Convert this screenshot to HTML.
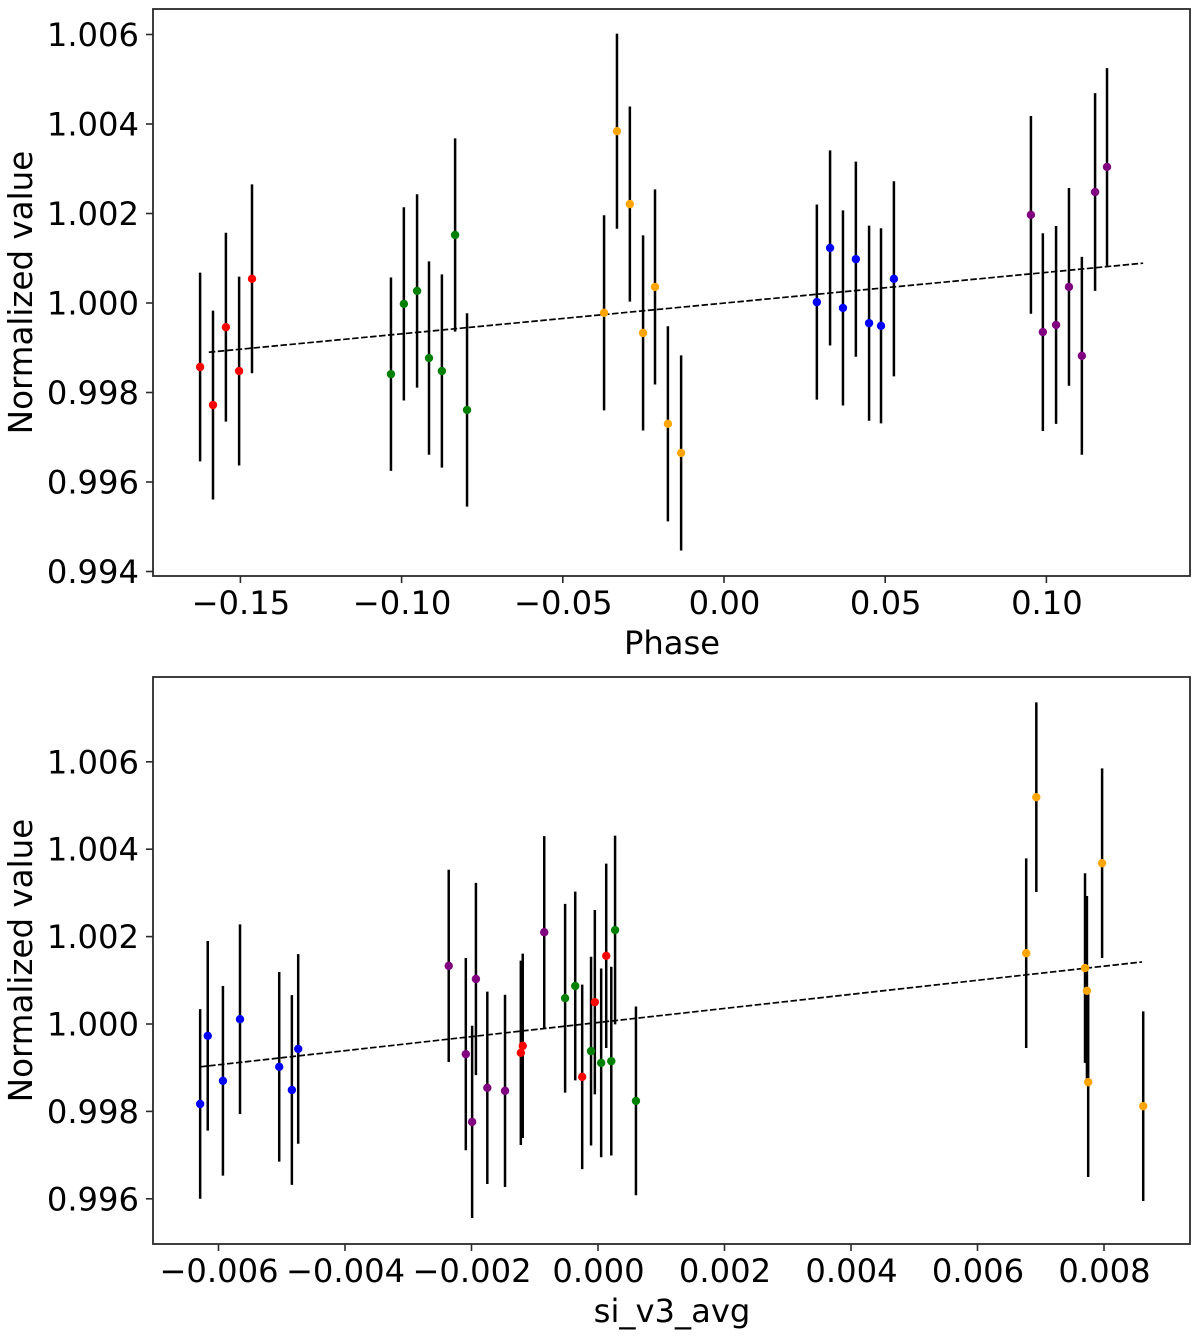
<!DOCTYPE html>
<html lang="en">
<head>
<meta charset="utf-8">
<title>Normalized value vs Phase and si_v3_avg</title>
<style>
html,body{margin:0;padding:0;background:#fff;}
svg{display:block;}
text{font-family:"DejaVu Sans","Liberation Sans",sans-serif;fill:#000;}
</style>
</head>
<body>
<svg id="figure" xmlns="http://www.w3.org/2000/svg" width="1200" height="1338" viewBox="0 0 1200 1338"></svg>
<script>
const seriesColors = ['red', 'green', 'orange', 'blue', 'purple'];
const seriesNames = ['red', 'green', 'orange', 'blue', 'purple'];

const phaseX = [
  [-0.1625, -0.1585, -0.1545, -0.1504, -0.1464],
  [-0.1033, -0.0993, -0.0952, -0.0915, -0.0875, -0.0834, -0.0797],
  [-0.0372, -0.0332, -0.0292, -0.0251, -0.0214, -0.0174, -0.0133],
  [0.0288, 0.0329, 0.0369, 0.0409, 0.0450, 0.0487, 0.0527],
  [0.0952, 0.0989, 0.1030, 0.1070, 0.1110, 0.1151, 0.1188]
];
const phaseY = [
  [0.99857, 0.99772, 0.99946, 0.99848, 1.00054],
  [0.99841, 0.99998, 1.00027, 0.99877, 0.99848, 1.00152, 0.99761],
  [0.99978, 1.00384, 1.00221, 0.99933, 1.00036, 0.99730, 0.99665],
  [1.00002, 1.00123, 0.99989, 1.00098, 0.99955, 0.99949, 1.00054],
  [1.00197, 0.99935, 0.99951, 1.00036, 0.99882, 1.00248, 1.00304]
];
const phaseErr = [0.00211, 0.00216, 0.00218, 0.00218, 0.00221];
const phaseTrendX = [-0.1598, 0.1300];
const phaseTrendY = [0.99890, 1.00089];
const phaseXTicks = [-0.15, -0.10, -0.05, 0.00, 0.05, 0.10];
const phaseXLabels = ['\u22120.15', '\u22120.10', '\u22120.05', '0.00', '0.05', '0.10'];
const phaseYTicks = [0.994, 0.996, 0.998, 1.000, 1.002, 1.004, 1.006];
const phaseYLabels = ['0.994', '0.996', '0.998', '1.000', '1.002', '1.004', '1.006'];

const siX = [
  [-0.00122, -0.00119, -0.00025, -0.00005, 0.00013],
  [-0.00052, -0.00036, -0.00011, 0.00005, 0.00021, 0.00027, 0.00060],
  [0.00677, 0.00693, 0.00770, 0.00773, 0.00775, 0.00797, 0.00862],
  [-0.00629, -0.00617, -0.00593, -0.00566, -0.00504, -0.00484, -0.00474],
  [-0.00236, -0.00209, -0.00199, -0.00193, -0.00175, -0.00147, -0.00085]
];
const siY = [
  [0.99934, 0.99950, 0.99879, 1.00050, 1.00156],
  [1.00059, 1.00087, 0.99938, 0.99911, 0.99915, 1.00215, 0.99824],
  [1.00162, 1.00519, 1.00128, 1.00076, 0.99867, 1.00368, 0.99812],
  [0.99817, 0.99973, 0.99870, 1.00011, 0.99902, 0.99849, 0.99943],
  [1.00133, 0.99931, 0.99776, 1.00103, 0.99854, 0.99847, 1.00210]
];
const siErr = [0.00211, 0.00216, 0.00217, 0.00217, 0.00220];
const siTrendX = [-0.00629, 0.00860];
const siTrendY = [0.99902, 1.00142];
const siXTicks = [-0.006, -0.004, -0.002, 0.000, 0.002, 0.004, 0.006, 0.008];
const siXLabels = ['\u22120.006', '\u22120.004', '\u22120.002', '0.000', '0.002', '0.004', '0.006', '0.008'];
const siYTicks = [0.996, 0.998, 1.000, 1.002, 1.004, 1.006];
const siYLabels = ['0.996', '0.998', '1.000', '1.002', '1.004', '1.006'];

const SVG_NS = 'http://www.w3.org/2000/svg';
const figure = document.getElementById('figure');

function make(parent, tag, attrs) {
  const el = document.createElementNS(SVG_NS, tag);
  for (const k in attrs) el.setAttribute(k, attrs[k]);
  parent.appendChild(el);
  return el;
}

function drawPanel(p) {
  const sx = v => p.x0 + (v - p.xRef) * p.xScale;
  const sy = v => p.yRef - (v - 1) * p.yScale;

  const panel = make(figure, 'g', {});
  
  

  const bg = make(panel, 'rect', {x: p.left, y: p.top, width: p.right - p.left, height: p.bottom - p.top, fill: '#fff'});
  
  

  const errGroup = make(panel, 'g', {});
  
  
  p.xs.forEach((group, g) => {
    group.forEach((xv, i) => {
      const yv = p.ys[g][i];
      const bar = make(errGroup, 'line', {x1: sx(xv), x2: sx(xv), y1: sy(yv + p.errs[g]), y2: sy(yv - p.errs[g]), stroke: '#000', 'stroke-width': 2.5});
      
      
    });
  });

  const trend = make(panel, 'line', {x1: sx(p.trendX[0]), y1: sy(p.trendY[0]), x2: sx(p.trendX[1]), y2: sy(p.trendY[1]), stroke: '#000', 'stroke-width': 1.7, 'stroke-dasharray': '6.5 2.5'});
  
  

  const ptGroup = make(panel, 'g', {});
  
  
  p.xs.forEach((group, g) => {
    group.forEach((xv, i) => {
      const dot = make(ptGroup, 'circle', {cx: sx(xv), cy: sy(p.ys[g][i]), r: 4.2, fill: seriesColors[g]});
      
      
    });
  });

  const frame = make(panel, 'rect', {x: p.left, y: p.top, width: p.right - p.left, height: p.bottom - p.top, fill: 'none', stroke: '#2a2a2a', 'stroke-width': 1.8});
  
  

  p.xTicks.forEach((t, i) => {
    const tick = make(panel, 'line', {x1: sx(t), x2: sx(t), y1: p.bottom, y2: p.bottom + 7, stroke: '#2a2a2a', 'stroke-width': 1.6});
    
    
    const label = make(panel, 'text', {x: sx(t) + 0.5, y: p.bottom + 38, 'text-anchor': 'middle', 'font-size': 32.2});
    
    
    label.textContent = p.xLabels[i];
  });

  p.yTicks.forEach((t, i) => {
    const tick = make(panel, 'line', {x1: p.left - 7, x2: p.left, y1: sy(t), y2: sy(t), stroke: '#2a2a2a', 'stroke-width': 1.6});
    
    
    const label = make(panel, 'text', {x: 139, y: sy(t) + 11.5, 'text-anchor': 'end', 'font-size': 32.2});
    
    
    label.textContent = p.yLabels[i];
  });

  const xTitle = make(panel, 'text', {x: 672, y: p.bottom + 78, 'text-anchor': 'middle', 'font-size': 32.2});
  
  
  xTitle.textContent = p.xTitle;

  const cy = (p.top + p.bottom) / 2;
  const yTitle = make(panel, 'text', {x: 32, y: cy, 'text-anchor': 'middle', 'font-size': 32.5, transform: 'rotate(-90 32 ' + cy + ')'});
  
  
  yTitle.textContent = 'Normalized value';
}

drawPanel({
  name: 'phase', left: 153, right: 1190, top: 9, bottom: 576,
  x0: 724, xRef: 0, xScale: 3224, yRef: 303, yScale: 44750,
  xs: phaseX, ys: phaseY, errs: phaseErr, trendX: phaseTrendX, trendY: phaseTrendY,
  xTicks: phaseXTicks, xLabels: phaseXLabels, yTicks: phaseYTicks, yLabels: phaseYLabels,
  xTitle: 'Phase'
});

drawPanel({
  name: 'si-v3-avg', left: 153, right: 1190, top: 677, bottom: 1244,
  x0: 598, xRef: 0, xScale: 63250, yRef: 1024, yScale: 43700,
  xs: siX, ys: siY, errs: siErr, trendX: siTrendX, trendY: siTrendY,
  xTicks: siXTicks, xLabels: siXLabels, yTicks: siYTicks, yLabels: siYLabels,
  xTitle: 'si_v3_avg'
});
</script>
</body>
</html>
